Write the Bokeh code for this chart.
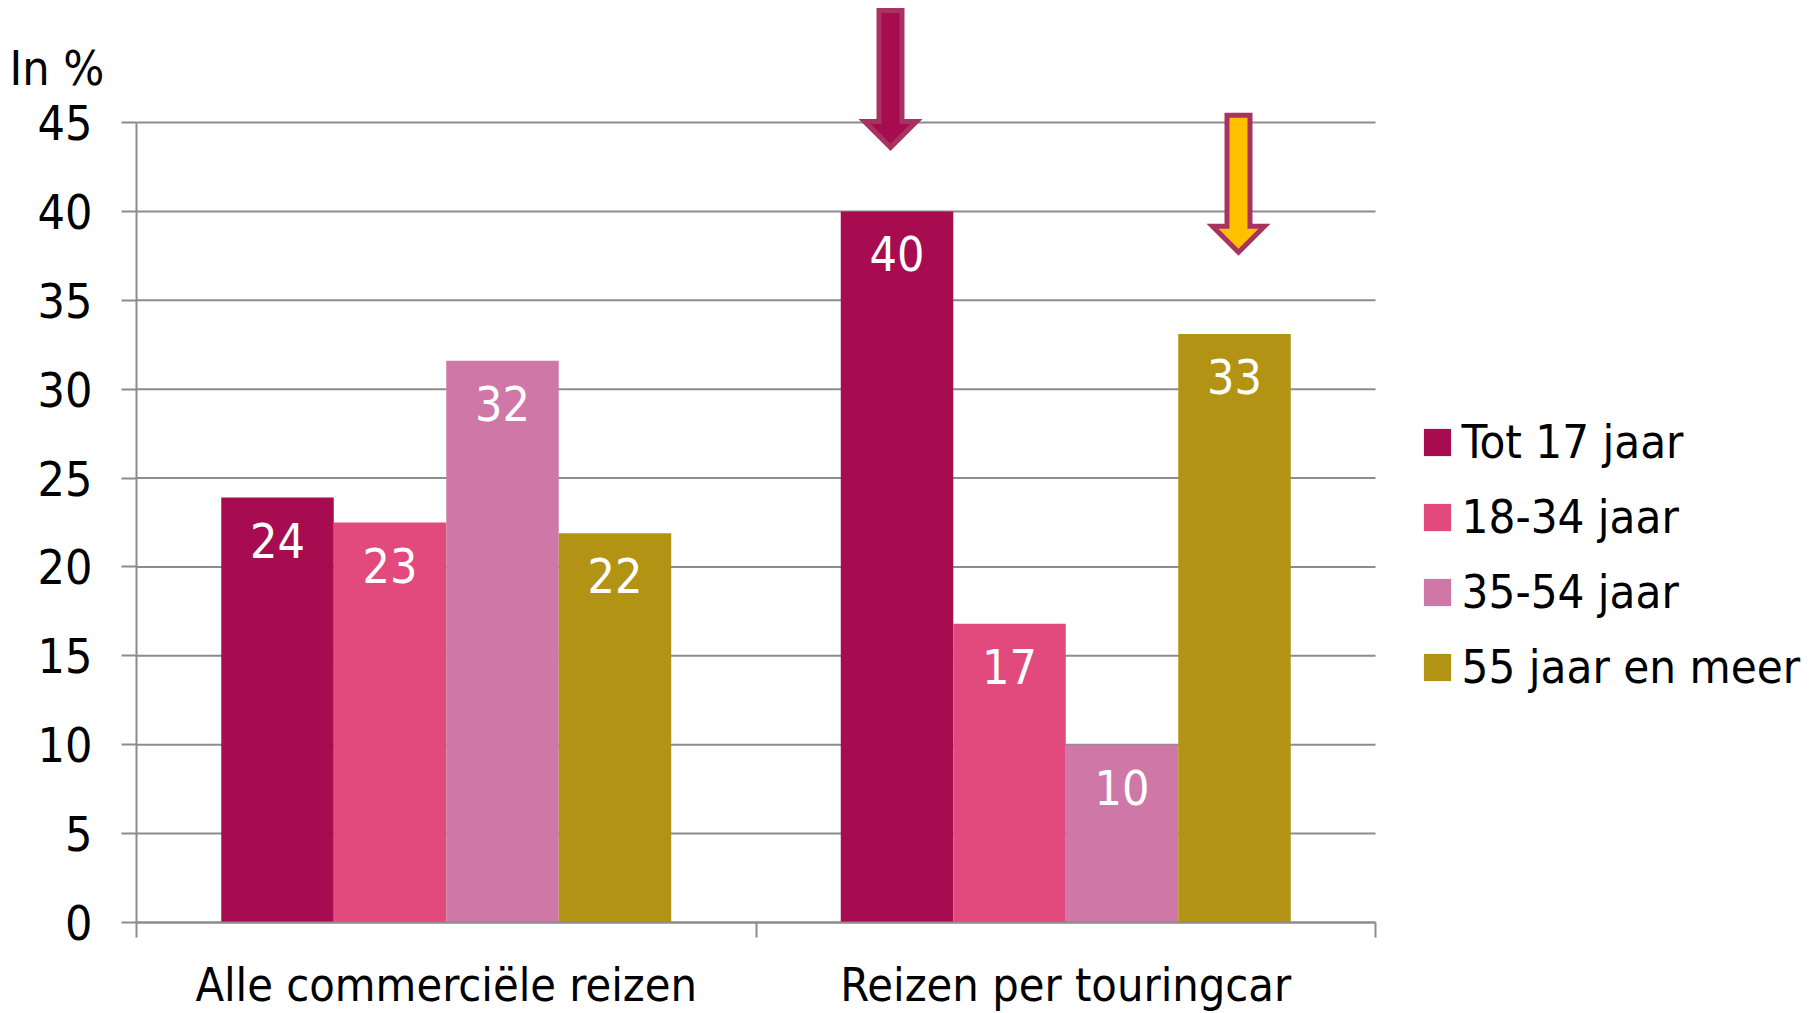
from bokeh.plotting import figure
from bokeh.models import (FixedTicker, Legend, LegendItem, PolyAnnotation, Label,
                          ColumnDataSource, Range1d)
from bokeh.core.properties import value
from bokeh.embed import file_html
from bokeh.resources import INLINE

# ---------------- data ----------------
categories = ["Alle commerciële reizen", "Reizen per touringcar"]
series = ["Tot 17 jaar", "18-34 jaar", "35-54 jaar", "55 jaar en meer"]
colors = ["#A80C50", "#E24A7E", "#CF78A8", "#B39314"]
tot17 = [23.9, 40.0]
j18_34 = [22.5, 16.8]
j35_54 = [31.6, 10.0]
j55plus = [21.9, 33.1]
tot17_lbl = ["24", "40"]
j18_34_lbl = ["23", "17"]
j35_54_lbl = ["32", "10"]
j55plus_lbl = ["22", "33"]
y_ticks = [0, 5, 10, 15, 20, 25, 30, 35, 40, 45]
y_unit_label = "In %"
# highlight arrows: (category index, series index, tip value, x shift px, fill)
arrows = [(1, 0, 43.6, -6.5, "#A80C50"), (1, 3, 37.7, 4.0, "#FFC000")]

series_vals = [tot17, j18_34, j35_54, j55plus]
series_lbls = [tot17_lbl, j18_34_lbl, j35_54_lbl, j55plus_lbl]

FONT = "DejaVu Sans Condensed"
GRID = "#8C8C8C"
W, H = 1819, 1013
ORIGIN_X, ORIGIN_Y = 136, 922      # pixel position of (0, 0)
PX_X = 619.5                       # pixels per category
PX_Y = 800.0 / 45.0                # pixels per percent
XPX = 1.0 / PX_X
YPX = 1.0 / PX_Y
BAR_W = 112.5 * XPX

p = figure(width=W, height=H,
           x_range=Range1d(-ORIGIN_X * XPX, (W - ORIGIN_X) * XPX),
           y_range=Range1d(-(H - ORIGIN_Y) * YPX, ORIGIN_Y * YPX),
           output_backend="svg", toolbar_location=None,
           min_border_left=0, min_border_right=0,
           min_border_top=0, min_border_bottom=0)
p.outline_line_color = None
p.background_fill_color = "white"
p.border_fill_color = "white"

# gridlines (behind bars), limited to the category span
p.segment(x0=[0] * len(y_ticks), y0=y_ticks, x1=[len(categories)] * len(y_ticks), y1=y_ticks,
          line_color=GRID, line_width=2)

renderers = []
for i, (name, vals, lbls, col) in enumerate(zip(series, series_vals, series_lbls, colors)):
    xs = [g + 0.5 + (i - 1.5) * BAR_W for g in range(len(categories))]
    src = ColumnDataSource(dict(x=xs, top=vals, lbl=lbls))
    r = p.vbar(x="x", top="top", bottom=0, width=BAR_W, source=src,
               fill_color=col, line_color=None)
    renderers.append(r)
    p.text(x="x", y="top", text="lbl", source=src, text_color="white",
           text_font=value(FONT), text_font_size="48px",
           text_align="center", text_baseline="middle", y_offset=42.5)

# arrows
SHAFT_HW, HEAD_HW, HEAD_H, SHAFT_LEN = 11.5, 26.0, 26.0, 111.0
for g, s, tip, dx, fill in arrows:
    xc = g + 0.5 + (s - 1.5) * BAR_W + dx * XPX
    base = tip + HEAD_H * YPX
    top = base + SHAFT_LEN * YPX
    xs = [xc, xc - HEAD_HW * XPX, xc - SHAFT_HW * XPX, xc - SHAFT_HW * XPX,
          xc + SHAFT_HW * XPX, xc + SHAFT_HW * XPX, xc + HEAD_HW * XPX]
    ys = [tip, base, base, top, top, base, base]
    p.add_layout(PolyAnnotation(xs=xs, ys=ys, fill_color=fill, fill_alpha=1.0,
                                line_color="#A83360", line_width=5, line_alpha=1.0,
                                line_join="miter"))

# y axis, fixed at x = 0
p.yaxis.fixed_location = 0
p.yaxis.bounds = (y_ticks[0], y_ticks[-1])
p.yaxis.ticker = FixedTicker(ticks=y_ticks)
p.yaxis.major_tick_out = 15
p.yaxis.major_tick_in = 0
p.yaxis.minor_tick_line_color = None
p.yaxis.axis_line_color = GRID
p.yaxis.axis_line_width = 2
p.yaxis.major_tick_line_color = GRID
p.yaxis.major_tick_line_width = 2
p.yaxis.major_label_standoff = 29
p.yaxis.major_label_text_font = FONT
p.yaxis.major_label_text_font_size = "48px"
p.yaxis.major_label_text_color = "black"

# x axis, fixed at y = 0
p.xaxis.fixed_location = 0
p.xaxis.bounds = (0, len(categories))
p.xaxis.ticker = FixedTicker(ticks=[0.5, 1.5], minor_ticks=[0, 1, 2])
p.xaxis.major_label_overrides = {0.5: categories[0], 1.5: categories[1]}
p.xaxis.major_tick_out = 0
p.xaxis.major_tick_in = 0
p.xaxis.minor_tick_out = 15
p.xaxis.minor_tick_in = 0
p.xaxis.minor_tick_line_color = GRID
p.xaxis.minor_tick_line_width = 2
p.xaxis.axis_line_color = GRID
p.xaxis.axis_line_width = 2
p.xaxis.major_label_standoff = 20
p.xaxis.major_label_text_font = FONT
p.xaxis.major_label_text_font_size = "46.5px"
p.xaxis.major_label_text_color = "black"

p.xgrid.grid_line_color = None
p.ygrid.grid_line_color = None

p.add_layout(Label(x=(9 - ORIGIN_X) * XPX, y=(ORIGIN_Y - 67) * YPX, text=y_unit_label,
                   text_font=FONT, text_font_size="48px", text_color="black",
                   text_baseline="middle", text_align="left"))

legend = Legend(items=[LegendItem(label=n, renderers=[r]) for n, r in zip(series, renderers)],
                location=(1419.6, 319), orientation="vertical",
                glyph_width=34, glyph_height=34, label_height=34, label_standoff=8,
                spacing=20, padding=0, margin=0,
                label_text_font=FONT, label_text_font_size="47px",
                label_text_color="black",
                border_line_color=None, background_fill_alpha=0)
p.add_layout(legend, "center")

open("out.html", "w").write(file_html(p, INLINE))
